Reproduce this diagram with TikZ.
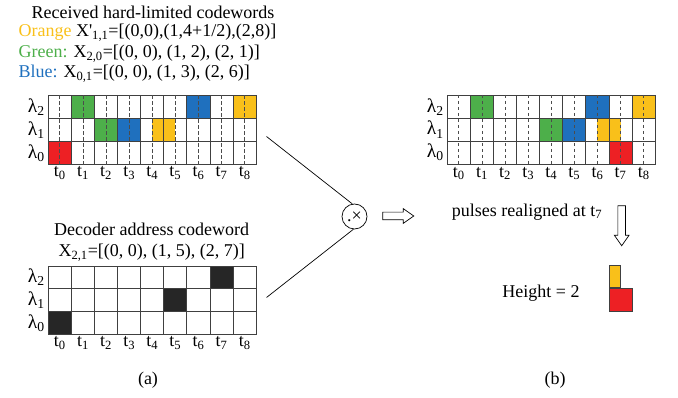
\documentclass[tikz,border=0pt]{standalone}
\usepackage{fontspec}
\setmainfont{Liberation Serif}
\usetikzlibrary{positioning,shapes.arrows,backgrounds}
\definecolor{codeorange}{RGB}{249,192,26}
\definecolor{codegreen}{RGB}{77,175,74}
\definecolor{codeblue}{RGB}{31,112,190}
\definecolor{codered}{RGB}{237,32,36}

\begin{document}
\begin{tikzpicture}[x=1pt, y=-1pt, font=\fontsize{18}{21}\selectfont,
	cell/.style={draw=black!75, line width=0.9pt, minimum width=23.1pt, minimum height=22.9pt, inner sep=0pt},
	tick/.style={draw=black!70, dash pattern=on 3.5pt off 2.5pt, line width=0.9pt},
	lbl/.style={inner sep=1pt},
	lam/.style={inner sep=1pt, font=\fontsize{19.5}{21}\selectfont},
	hollow/.style={draw, single arrow, single arrow head extend=3.5pt, single arrow tip angle=70, inner sep=3.5pt, line width=0.7pt}]
	\useasboundingbox (0,0) rectangle (678,398);

	% received codewords
	\node (rx) at (153,12) {Received hard-limited codewords};
	\node[anchor=west] (ox) at (15,33) {\textcolor{codeorange}{Orange} X\textquotesingle\textsubscript{1,1}=[(0,0),(1,4+1/2),(2,8)]};
	\node[anchor=west] (gx) at (15,54) {\textcolor{codegreen}{Green:} X\textsubscript{2,0}=[(0, 0), (1, 2), (2, 1)]};
	\node[anchor=west] (bx) at (15,74) {\textcolor{codeblue}{Blue:} X\textsubscript{0,1}=[(0, 0), (1, 3), (2, 6)]};

	\foreach \r in {0,1,2}
		\foreach \c in {0,...,8}
			\node[cell] (A-\r-\c) at ({48.3+(\c+0.5)*23.1},{95.7+(2.5-\r)*22.9}) {};
	\begin{scope}[on background layer]
		\foreach \r/\c/\col in {2/1/codegreen, 2/6/codeblue, 2/8/codeorange, 1/2/codegreen, 1/3/codeblue, 0/0/codered}
			\fill[\col] (A-\r-\c.north west) rectangle (A-\r-\c.south east);
		\fill[codeorange] (A-1-4.north) rectangle (A-1-5.south);
	\end{scope}
	\foreach \c in {0,...,8}
		\draw[tick] (A-2-\c.north) -- (A-0-\c.south);
	\foreach \r in {0,1,2}
		\node[lam, left=2pt of A-\r-0] (la-\r) {λ\textsubscript{\r}};
	\foreach \c in {0,...,8}
		\node[lbl, below=0.5pt of A-0-\c] (ta-\c) {t\textsubscript{\c}};

	% decoder address
	\node (dec) at (151.7,229) {Decoder address codeword};
	\node (dx) at (151.7,253) {X\textsubscript{2,1}=[(0, 0), (1, 5), (2, 7)]};

	\foreach \r in {0,1,2}
		\foreach \c in {0,...,8}
			\node[cell] (B-\r-\c) at ({48.3+(\c+0.5)*23.1},{266+(2.5-\r)*22.9}) {};
	\begin{scope}[on background layer]
		\foreach \r/\c in {0/0, 1/5, 2/7}
			\fill[black!85] (B-\r-\c.north west) rectangle (B-\r-\c.south east);
	\end{scope}
	\foreach \r in {0,1,2}
		\node[lam, left=2pt of B-\r-0] (lb-\r) {λ\textsubscript{\r}};
	\foreach \c in {0,...,8}
		\node[lbl, below=0.5pt of B-0-\c] (tb-\c) {t\textsubscript{\c}};

	% correlator
	\node[draw, circle, minimum size=25pt, inner sep=0pt, line width=0.7pt] (mul) at (354.5,216.5) {.×};
	\coordinate (ina) at (266.5,136.5);
	\coordinate (inb) at (266.5,297.5);
	\draw[line width=0.7pt] (ina) -- (mul.100);
	\draw[line width=0.7pt] (inb) -- (mul.265);
	\node[hollow, minimum height=31pt] (toright) at (395.5,216) {};

	% realigned
	\foreach \r in {0,1,2}
		\foreach \c in {0,...,8}
			\node[cell] (C-\r-\c) at ({447.3+(\c+0.5)*23.1},{95.3+(2.5-\r)*22.9}) {};
	\begin{scope}[on background layer]
		\foreach \r/\c/\col in {2/1/codegreen, 2/6/codeblue, 2/8/codeorange, 1/4/codegreen, 1/5/codeblue, 0/7/codered}
			\fill[\col] (C-\r-\c.north west) rectangle (C-\r-\c.south east);
		\fill[codeorange] (C-1-6.north) rectangle (C-1-7.south);
	\end{scope}
	\foreach \c in {0,...,8}
		\draw[tick] (C-2-\c.north) -- (C-0-\c.south);
	\foreach \r in {0,1,2}
		\node[lam, left=2pt of C-\r-0] (lc-\r) {λ\textsubscript{\r}};
	\foreach \c in {0,...,8}
		\node[lbl, below=1.5pt of C-0-\c] (tc-\c) {t\textsubscript{\c}};

	\node (pulse) at (527,212) {pulses realigned at t\textsubscript{7}};
	\node[hollow, minimum height=40pt, rotate=-90] (down) at (621.7,223) {};
	\node (height) at (541,293) {Height = 2};
	\node[cell, fill=codered] (redblk) at (620.8,300.3) {};
	\node[cell, fill=codeorange, minimum width=11.5pt, above right=0pt and 0pt of redblk.north west] (orblk) {};

	\node (capa) at (148,380) {(a)};
	\node (capb) at (555,380) {(b)};
\end{tikzpicture}
\end{document}
